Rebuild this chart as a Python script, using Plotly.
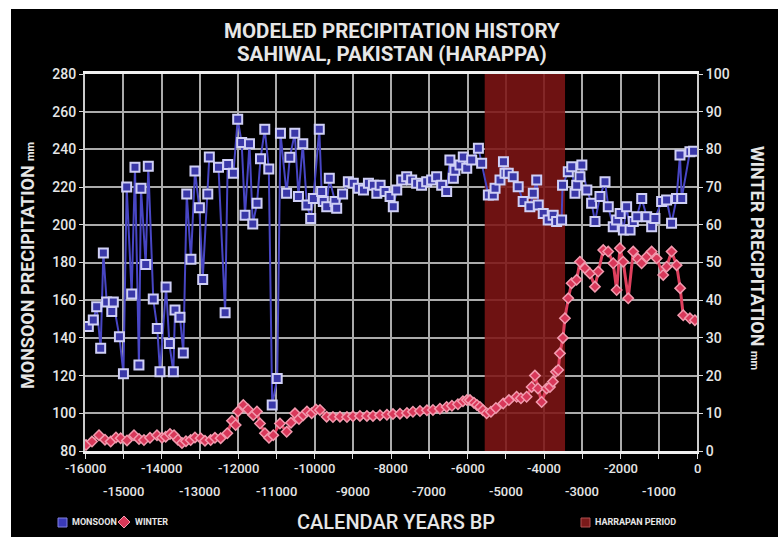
import plotly.graph_objects as go

# ---------------- data ----------------
monsoon_years = [-15913, -15783, -15695, -15590, -15520, -15433, -15300, -15260, -15100, -14995,
                 -14910, -14780, -14693, -14590, -14536, -14413, -14345, -14215, -14110, -14040,
                 -13880, -13795, -13690, -13647, -13516, -13430, -13340, -13230, -13125, -13010,
                 -12923, -12790, -12750, -12510, -12337, -12270, -12120, -12008, -11904, -11817,
                 -11700, -11614, -11502, -11412, -11300, -11195, -11106, -10975, -10890, -10730,
                 -10645, -10515, -10420, -10306, -10200, -10100, -10030, -9875, -9813, -9770,
                 -9680, -9613, -9465, -9420, -9265, -9115, -8985, -8855, -8720, -8590,
                 -8460, -8370, -8285, -8155, -8025, -7940, -7850, -7720, -7590, -7460,
                 -7330, -7200, -7067, -6937, -6807, -6675, -6545, -6460, -6370, -6330,
                 -6196, -6110, -6020, -5890, -5715, -5630, -5455, -5325, -5280, -5150,
                 -5060, -5020, -4935, -4805, -4675, -4545, -4370, -4280, -4190, -4150,
                 -4020, -3890, -3760, -3670, -3540, -3515, -3365, -3275, -3190, -3145,
                 -3060, -3010, -2880, -2755, -2667, -2537, -2405, -2320, -2190, -2100,
                 -2010, -1925, -1840, -1750, -1665, -1575, -1445, -1315, -1185, -1100,
                 -925, -795, -665, -535, -445, -400, -185, -90]
monsoon_mm = [146, 149.5, 156.5, 134.5, 185, 159, 154, 159, 140.6, 121,
              220, 163.3, 230.5, 125.6, 219.4, 179, 231, 160.6, 145, 122,
              167, 137, 122, 154.8, 151, 132, 216.3, 181.7, 228.5, 209,
              171, 216.3, 236, 230.5, 153.4, 232, 227.3, 256, 243.6, 205,
              243, 200.4, 211.4, 235, 250.7, 229.6, 104.4, 118.5, 248.6, 216.7,
              235.8, 248.6, 215, 243, 210.5, 203.4, 214, 250.7, 217.6, 212.3,
              209.6, 224.7, 212.3, 208.8, 216.3, 222.9, 222, 219.4, 218.5, 222,
              221, 216.7, 221, 217.6, 215, 209.6, 218.5, 223.8, 225.5, 223.8,
              222, 221, 222.9, 223.8, 225.5, 221, 217.6, 234.4, 224.7, 229,
              231.7, 236, 230, 234.4, 240.6, 232.6, 215.8, 215.8, 219.4, 223.8,
              233.5, 227.3, 227.3, 225.5, 220.2, 212.3, 209.6, 216.7, 223.8, 210.5,
              206, 202.5, 205, 201.7, 202.5, 221, 228.2, 230.8, 216.7, 221,
              225.5, 231.7, 218.5, 211.4, 201.7, 215, 222.9, 209.6, 199, 202.5,
              206, 197.2, 209.6, 197.2, 201.7, 204.3, 214, 204.3, 199, 203.4,
              212.3, 213.2, 200.8, 214, 237, 214, 238.8, 239]

winter_years = [-15974, -15817, -15634, -15477, -15328, -15190, -15067, -14902, -14719, -14588,
                -14458, -14301, -14118, -13987, -13890, -13778, -13673, -13569, -13464, -13360,
                -13237, -13125, -12976, -12863, -12714, -12602, -12453, -12280, -12157, -12061,
                -12000, -11862, -11739, -11600, -11504, -11425, -11295, -11190, -11078, -10903,
                -10727, -10615, -10510, -10406, -10294, -10197, -10074, -9962, -9857, -9682,
                -9517, -9334, -9151, -8994, -8812, -8629, -8471, -8289, -8106, -7949,
                -7766, -7583, -7426, -7243, -7060, -6903, -6720, -6545, -6407, -6250,
                -6119, -6015, -5936, -5832, -5753, -5675, -5596, -5500, -5387, -5257,
                -5066, -4917, -4716, -4603, -4454, -4323, -4237, -4158, -4062, -3931,
                -3845, -3767, -3688, -3628, -3584, -3505, -3453, -3366, -3277, -3147,
                -3060, -2930, -2799, -2668, -2582, -2451, -2321, -2190, -2101, -2015,
                -1929, -1798, -1667, -1544, -1448, -1317, -1186, -1056, -883, -795,
                -664, -533, -440, -360, -185, -55]
winter_mm = [1.6, 2.5, 4.2, 3.0, 2.5, 3.6, 3.4, 2.8, 4.2, 3.2,
             2.9, 3.5, 4.2, 3.5, 3.8, 4.5, 4.2, 3.0, 2.1, 2.6,
             2.9, 3.6, 3.4, 2.7, 2.9, 3.5, 3.4, 4.7, 8.0, 6.9,
             10.5, 12.2, 11.0, 9.5, 10.5, 7.3, 4.7, 3.5, 4.2, 7.3,
             5.1, 7.5, 10.0, 8.5, 9.5, 10.5, 10.0, 11.0, 10.9, 9.1,
             9.0, 9.1, 9.0, 9.2, 9.3, 9.3, 9.3, 9.5, 9.6, 9.8,
             9.9, 10.1, 10.4, 10.6, 10.8, 10.9, 11.2, 11.7, 12.0, 12.4,
             13.2, 13.5, 13.5, 12.8, 12.2, 11.7, 10.8, 10.0, 10.4, 11.4,
             12.6, 13.5, 14.4, 14.0, 14.4, 17.0, 20.0, 16.6, 13.0, 16.6,
             17.0, 18.4, 21.0, 21.5, 25.9, 30.0, 35.2, 40.5, 44.5, 45.4,
             50.2, 48.5, 47.1, 43.6, 47.6, 53.3, 52.9, 49.8, 42.7, 53.8,
             50.2, 40.5, 52.9, 51.0, 49.8, 51.5, 52.9, 51.1, 46.7, 48.9,
             52.9, 49.3, 43.2, 36.0, 35.2, 34.7]

harappan_period = [-5550, -3450]
x_ticks_row1 = [-16000, -14000, -12000, -10000, -8000, -6000, -4000, -2000, 0]
x_ticks_row2 = [-15000, -13000, -11000, -9000, -7000, -5000, -3000, -1000]
left_ticks = [80, 100, 120, 140, 160, 180, 200, 220, 240, 260, 280]
right_ticks = [0, 10, 20, 30, 40, 50, 60, 70, 80, 90, 100]

title_line1 = "MODELED PRECIPITATION HISTORY"
title_line2 = "SAHIWAL, PAKISTAN (HARAPPA)"
x_title = "CALENDAR YEARS BP"
left_title = "MONSOON PRECIPITATION <span style='font-size:11px'>mm</span>"
right_title = "WINTER PRECIPITATION <span style='font-size:11px'>mm</span>"
legend_labels = ["MONSOON", "WINTER", "HARRAPAN PERIOD"]

# ---------------- style ----------------
W, H = 778, 537
ML, MR, MT, MB = 85, 81, 74, 86
PW, PH = W - ML - MR, H - MT - MB
FONT = "Roboto, Liberation Sans Narrow, sans-serif"
TXT = "#e6e6e6"
GRID = "#ababab"


def px_x(p):
    return (p - ML) / PW


def px_y(p):
    return 1 - (p - MT) / PH


def label(x, y, text, size, weight=700, angle=0, xanchor="center"):
    return dict(x=x, xref="paper", y=y, yref="paper", xanchor=xanchor,
                yanchor="middle", text=text, textangle=angle, showarrow=False,
                font=dict(family=FONT, size=size, color=TXT, weight=weight))


fig = go.Figure()

fig.add_trace(go.Scatter(
    x=monsoon_years, y=monsoon_mm, mode="lines+markers", name="MONSOON",
    line=dict(color="#4846c4", width=2),
    marker=dict(symbol="square", size=9, color="#3a38a8",
                line=dict(color="#d0d0f5", width=2)),
    yaxis="y", showlegend=False))

fig.add_trace(go.Scatter(
    x=winter_years, y=winter_mm, mode="lines+markers", name="WINTER",
    line=dict(color="#e0405e", width=3),
    marker=dict(symbol="diamond", size=8, color="#d8385a",
                line=dict(color="#f29aae", width=1.5)),
    yaxis="y2", showlegend=False))

# Harappan period band (between gridlines and traces)
fig.add_shape(type="rect", xref="x", yref="y",
              x0=harappan_period[0], x1=harappan_period[1], y0=80, y1=280,
              fillcolor="#7d1414", opacity=0.88, line_width=0, layer="between")

# black panel background on white page
fig.add_shape(type="rect", xref="paper", yref="paper",
              x0=px_x(11), x1=px_x(W + 5), y0=px_y(H + 5), y1=px_y(9),
              fillcolor="black", line_width=0, layer="below")

annotations = []
for v in x_ticks_row1:
    annotations.append(dict(x=v, xref="x", y=0, yref="paper", yanchor="top",
                            yshift=-8, text=str(v), showarrow=False,
                            font=dict(family=FONT, size=13, color=TXT, weight=500)))
for v in x_ticks_row2:
    annotations.append(dict(x=v, xref="x", y=0, yref="paper", yanchor="top",
                            yshift=-31, text=str(v), showarrow=False,
                            font=dict(family=FONT, size=13, color=TXT, weight=500)))

annotations.append(label(px_x(392), px_y(31), title_line1, 20.5))
annotations.append(label(px_x(392), px_y(54), title_line2, 20.5))
annotations.append(label(px_x(396), px_y(522), x_title, 20, weight=500))
annotations.append(label(px_x(27), px_y(266), left_title, 18, angle=-90))
annotations.append(label(px_x(758), px_y(258), right_title, 18, angle=90))
annotations.append(label(px_x(70), px_y(522), legend_labels[0], 9, xanchor="left"))
annotations.append(label(px_x(133), px_y(522), legend_labels[1], 9, xanchor="left"))
annotations.append(label(px_x(593), px_y(522), legend_labels[2], 9, xanchor="left"))

# legend symbols
fig.add_shape(type="rect", xref="paper", yref="paper",
              x0=px_x(58), x1=px_x(67), y0=px_y(527), y1=px_y(518),
              fillcolor="#3a3ab8", line=dict(color="#8080e0", width=1))
fig.add_shape(type="path", xref="paper", yref="paper",
              path="M {} {} L {} {} L {} {} L {} {} Z".format(
                  px_x(124), px_y(516), px_x(130), px_y(522),
                  px_x(124), px_y(528), px_x(118), px_y(522)),
              fillcolor="#d83858", line=dict(color="#f29aae", width=1))
fig.add_shape(type="rect", xref="paper", yref="paper",
              x0=px_x(581), x1=px_x(590), y0=px_y(527), y1=px_y(518),
              fillcolor="#7a1a1a", line=dict(color="#b05050", width=1))

fig.update_layout(
    width=W, height=H,
    margin=dict(l=ML, r=MR, t=MT, b=MB),
    paper_bgcolor="white", plot_bgcolor="black",
    xaxis=dict(range=[-16000, 0], tickvals=x_ticks_row1 + x_ticks_row2,
               showticklabels=False, ticks="outside", ticklen=5, tickcolor="#dddddd",
               showgrid=True, gridcolor=GRID, gridwidth=2, zeroline=False,
               showline=True, linecolor="#f0f0f0", linewidth=3, mirror=True),
    yaxis=dict(range=[80, 280], tickvals=left_ticks, ticks="outside", ticklen=4,
               tickcolor="#dddddd", showgrid=True, gridcolor=GRID, gridwidth=2,
               zeroline=False, showline=True, linecolor="#cccccc", linewidth=2,
               tickfont=dict(family=FONT, size=14, color=TXT, weight=500)),
    yaxis2=dict(range=[0, 100], tickvals=right_ticks, overlaying="y", side="right",
                ticks="outside", ticklen=4, tickcolor="#dddddd", showgrid=False,
                zeroline=False, showline=True, linecolor="#cccccc", linewidth=2,
                tickfont=dict(family=FONT, size=14, color=TXT, weight=500)),
    annotations=annotations,
    showlegend=False,
)

fig.write_html("out.html")
